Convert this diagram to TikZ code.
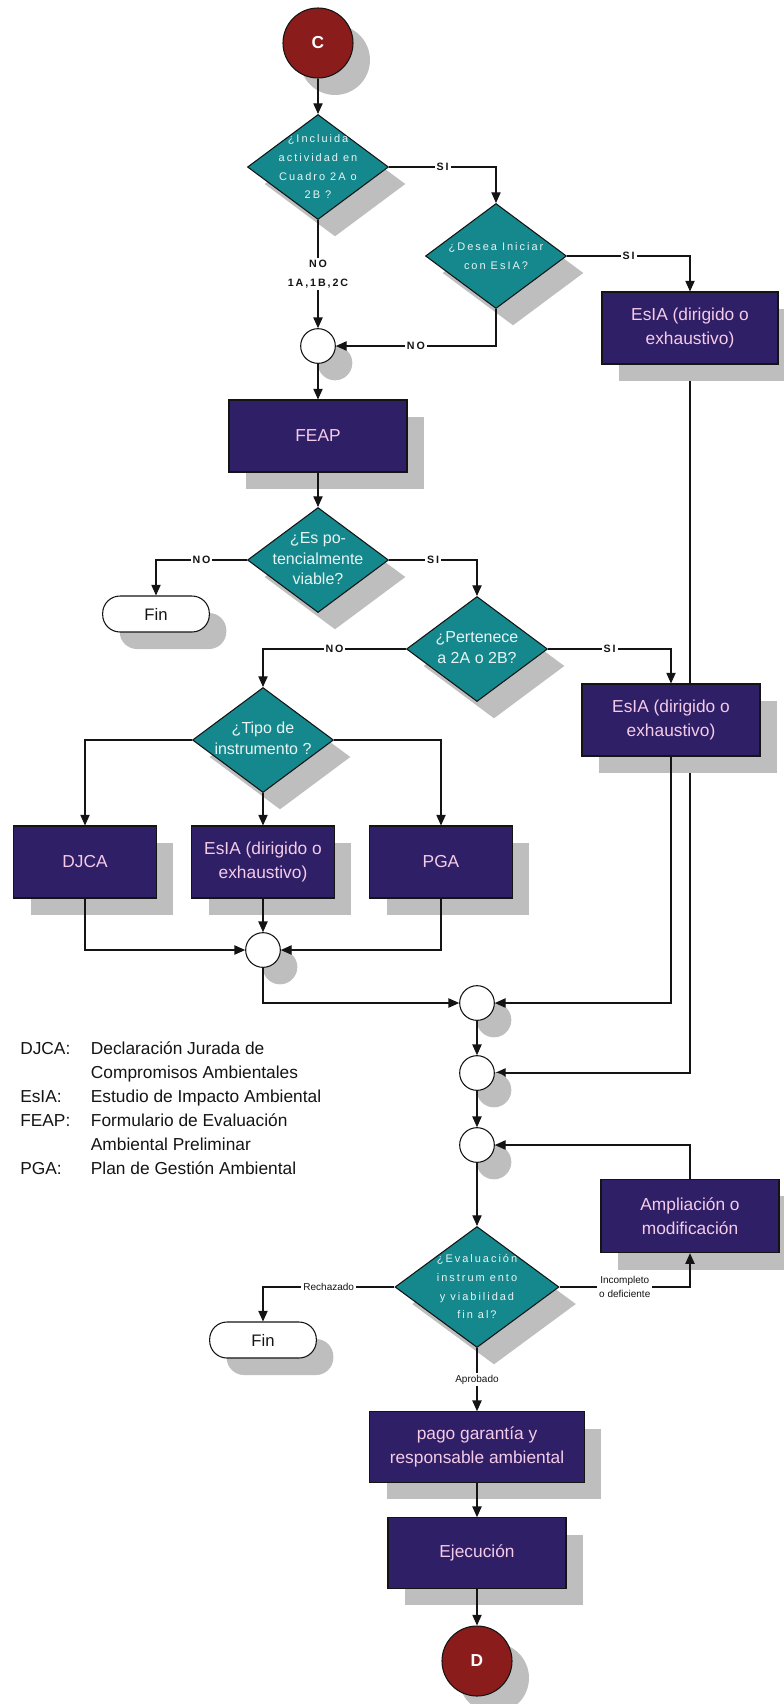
\documentclass[tikz,border=0pt]{standalone}
\usepackage{fontspec}
\setmainfont{Liberation Sans}
\newfontfamily\trackfont[LetterSpace=18]{Liberation Sans}
\usepackage{tikz}
\usetikzlibrary{positioning,shapes.geometric,arrows.meta,shadows,backgrounds}
\definecolor{ink}    {HTML}{141414}
\definecolor{indigo} {HTML}{2E1F66}
\definecolor{petrol} {HTML}{14888C}
\definecolor{maroon} {HTML}{8A1C1C}
\definecolor{blush}  {HTML}{F5CBE8}
\definecolor{mist}   {HTML}{E8F4F4}
\definecolor{shade}  {HTML}{BEBEBE}
\newcommand{\dtxt}[1]{\makebox[0pt]{\begin{tabular}{@{}c@{}}#1\end{tabular}}}
\tikzset{
  >={Triangle[length=8pt,width=7pt]},
  % --- nodes
  shd/.style   = {drop shadow={shadow xshift=12.75pt, shadow yshift=-12.75pt,
                  fill=shade, opacity=1}},
  box/.style   = {shd, rectangle, draw=ink, fill=indigo, text=blush, align=center,
                  line width=.8pt, inner sep=2pt, minimum width=133.5pt, minimum height=54pt,
                  font=\fontsize{13}{18}\selectfont},
  sbox/.style  = {box, minimum width=107pt},
  dec/.style   = {shd, diamond, draw=ink, fill=petrol, text=mist, inner sep=0pt,
                  line width=.8pt, minimum width=105.75pt, minimum height=78.75pt},
  bigdec/.style= {dec, minimum width=123pt, minimum height=90.75pt},
  wide/.style  = {font=\trackfont\fontsize{8.25}{14}\selectfont},
  tall/.style  = {font=\fontsize{12}{15.5}\selectfont},
  fin/.style   = {shd, rectangle, rounded corners=13pt, draw=ink, fill=white, text=ink,
                  line width=.8pt, minimum width=80pt, minimum height=27pt,
                  font=\fontsize{12.5}{14}\selectfont},
  jn/.style    = {shd, circle, draw=ink, fill=white, minimum size=26pt, inner sep=0pt,
                  line width=.8pt},
  con/.style   = {shd, circle, draw=ink, fill=maroon, text=white, minimum size=52.5pt,
                  inner sep=0pt, line width=.8pt, font=\fontsize{13}{15}\selectfont\bfseries},
  legend/.style= {inner sep=0pt, text=ink, font=\fontsize{13}{18}\selectfont},
  % --- edges
  e/.style     = {->, line width=.8pt, draw=ink},
  lbl/.style   = {fill=white, inner sep=1.5pt, text=ink,
                  font=\trackfont\fontsize{8}{14}\selectfont\bfseries, align=center},
  slbl/.style  = {fill=white, inner sep=1.5pt, text=ink, align=center,
                  font=\fontsize{7.5}{11}\selectfont},
}

\begin{document}
\begin{tikzpicture}[x=0.75pt, y=-0.75pt]
  \useasboundingbox (0,0) rectangle (783,1704);
  \node[con] (c1) at (318,43) {C};
  \node[dec, wide] (q1) at (318,167) {\dtxt{¿Incluida\\actividad en\\Cuadro 2A o\\2B ?}};
  \node[dec, wide] (q2) at (496,256) {\dtxt{¿Desea Iniciar\\con EsIA?}};
  \node[box, minimum width=132pt] (esia1) at (690,328) {EsIA (dirigido o\\exhaustivo)};
  \node[jn] (j1) at (318,346) {};
  \node[box] (feap) at (318,436) {FEAP};
  \node[dec, tall] (q3) at (318,560) {\dtxt{¿Es po-\\tencialmente\\viable?}};
  \node[fin] (fin1) at (156,614) {Fin};
  \node[dec, tall] (q4) at (477,649) {\dtxt{¿Pertenece\\a 2A o 2B?}};
  \node[box] (esia2) at (671,720) {EsIA (dirigido o\\exhaustivo)};
  \node[dec, tall] (q5) at (263,740) {\dtxt{¿Tipo de\\instrumento ?}};
  \node[sbox] (djca) at (85,862) {DJCA};
  \node[sbox] (esia3) at (263,862) {EsIA (dirigido o\\exhaustivo)};
  \node[sbox] (pga) at (441,862) {PGA};
  \node[jn] (j2) at (263,950) {};
  \node[jn] (j3) at (477,1003) {};
  \node[jn] (j4) at (477,1073) {};
  \node[jn] (j5) at (477,1145) {};
  \node[box, minimum height=55pt] (ampl) at (690,1216) {Ampliación o\\modificación};
  \node[bigdec, wide] (q6) at (477,1287) {\dtxt{¿Evaluación\\instrum ento\\y viabilidad\\fin al?}};
  \node[fin] (fin2) at (263,1340) {Fin};
  \node[box, minimum width=161pt, minimum height=53pt] (pago) at (477,1447)
    {pago garantía y\\responsable ambiental};
  \node[box, minimum height=53pt] (ejec) at (477,1553) {Ejecución};
  \node[con] (c2) at (477,1661) {D};
  \node[legend, anchor=west] (leg) at (20,1110) {%
    \begin{tabular}{@{}p{53pt}@{}l@{}}
      DJCA: & Declaración Jurada de\\
            & Compromisos Ambientales\\
      EsIA: & Estudio de Impacto Ambiental\\
      FEAP: & Formulario de Evaluación\\
            & Ambiental Preliminar\\
      PGA:  & Plan de Gestión Ambiental
    \end{tabular}};
  \begin{scope}[on background layer]
    \draw[e] (esia1.south) |- (j4.east);
  \end{scope}
  \draw[e] (c1.south) -- (q1.north);
  \draw[e] (q1.east) -| node[lbl, pos=.25] {SI} (q2.north);
  \draw[e] (q2.east) -| node[lbl, pos=.25] {SI} (esia1.north);
  \draw[e] (q1.south) -- node[lbl] {NO\\1A,1B,2C} (j1.north);
  \draw[e] (q2.south) |- node[lbl, pos=.75] {NO} (j1.east);
  \draw[e] (j1.south) -- (feap.north);
  \draw[e] (feap.south) -- (q3.north);
  \draw[e] (q3.west) -| node[lbl, pos=.25] {NO} (fin1.north);
  \draw[e] (q3.east) -| node[lbl, pos=.25] {SI} (q4.north);
  \draw[e] (q4.west) -| node[lbl, pos=.25] {NO} (q5.north);
  \draw[e] (q4.east) -| node[lbl, pos=.25] {SI} (esia2.north);
  \draw[e] (q5.west) -| (djca.north);
  \draw[e] (q5.south) -- (esia3.north);
  \draw[e] (q5.east) -| (pga.north);
  \draw[e] (djca.south) |- (j2.west);
  \draw[e] (esia3.south) -- (j2.north);
  \draw[e] (pga.south) |- (j2.east);
  \draw[e] (j2.south) |- (j3.west);
  \draw[e] (esia2.south) |- (j3.east);
  \draw[e] (j3.south) -- (j4.north);
  \draw[e] (j4.south) -- (j5.north);
  \draw[e] (ampl.north) |- (j5.east);
  \draw[e] (j5.south) -- (q6.north);
  \draw[e] (q6.west) -| node[slbl, pos=.25] {Rechazado} (fin2.north);
  \draw[e] (q6.east) -| node[slbl, pos=.25] {Incompleto\\o deficiente} (ampl.south);
  \draw[e] (q6.south) -- node[slbl] {Aprobado} (pago.north);
  \draw[e] (pago.south) -- (ejec.north);
  \draw[e] (ejec.south) -- (c2.north);
\end{tikzpicture}
\end{document}
